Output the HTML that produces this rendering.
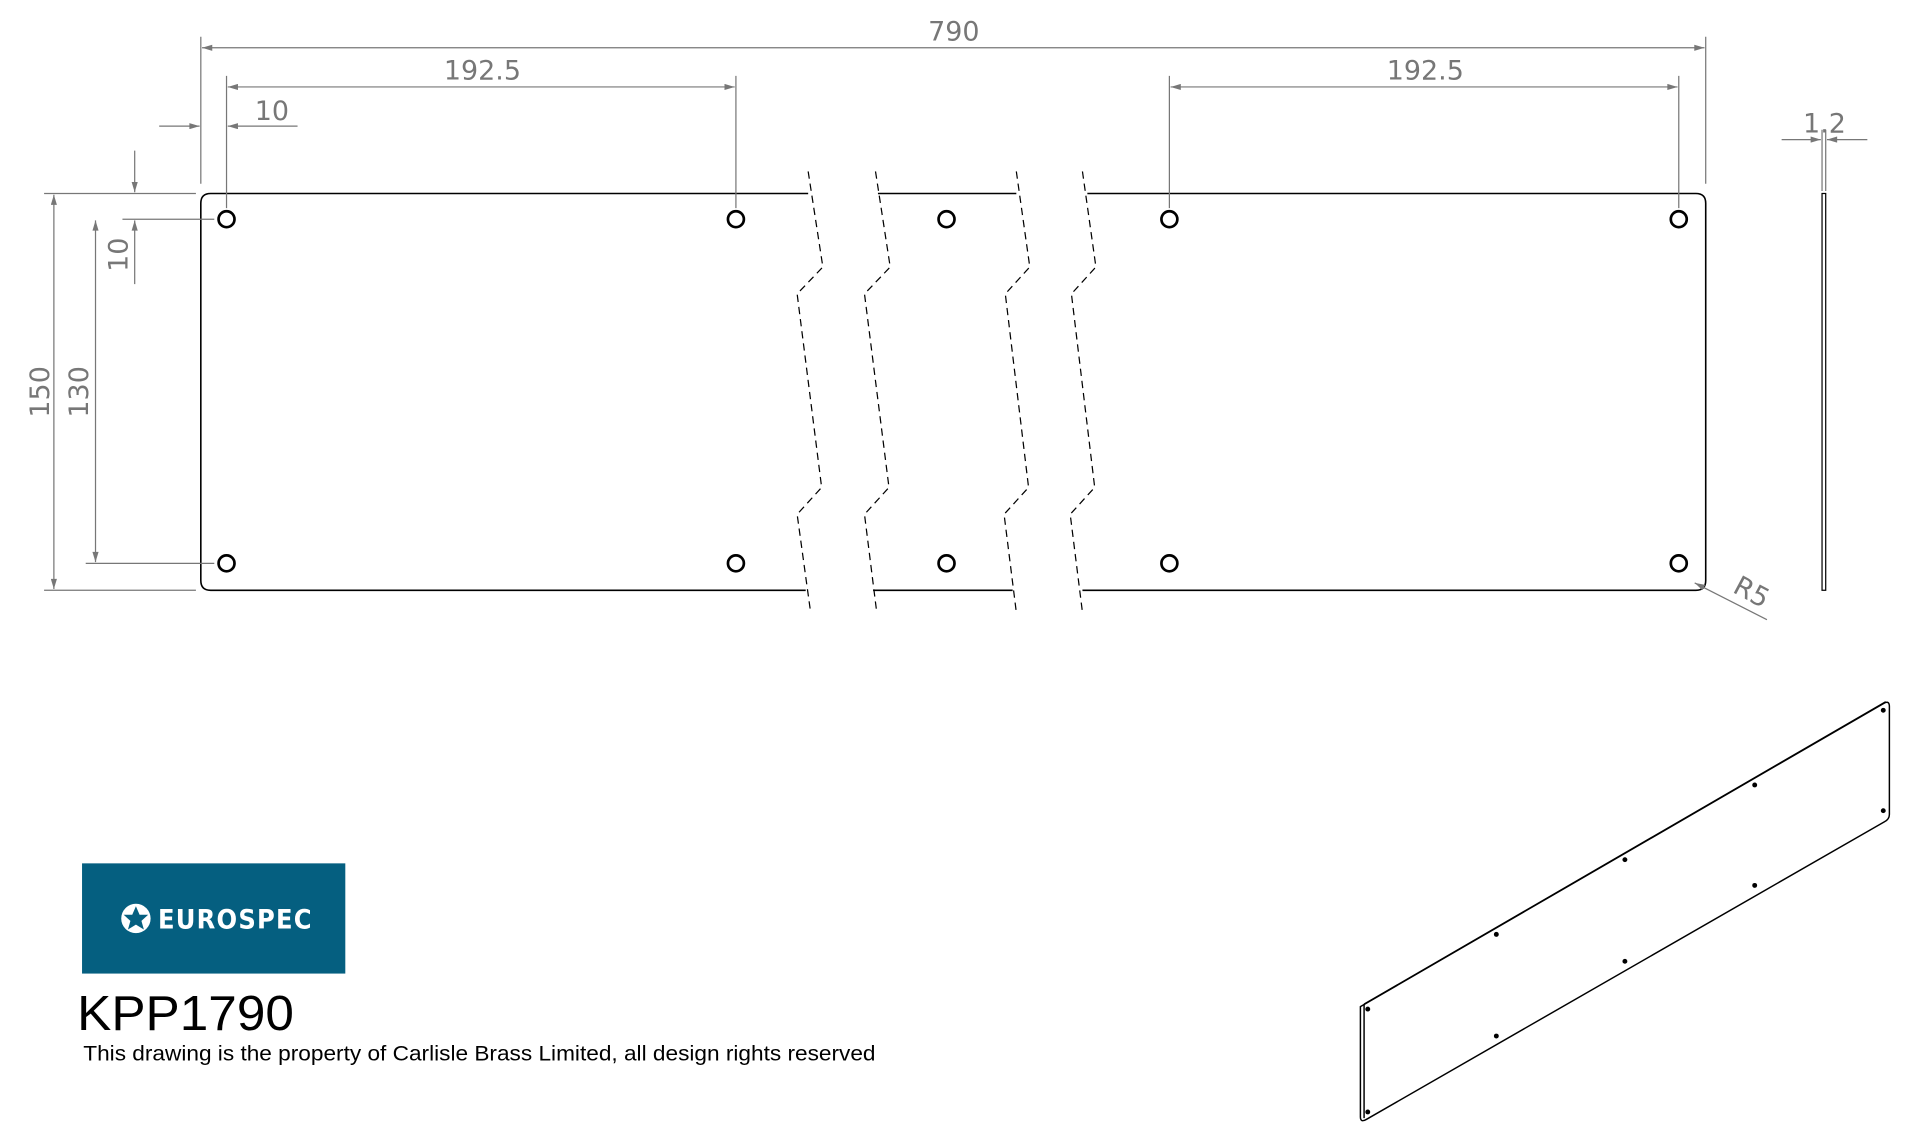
<!DOCTYPE html>
<html><head><meta charset="utf-8"><style>
html,body{margin:0;padding:0;background:#fff;}
svg{display:block}
</style></head><body>
<svg width="1920" height="1134" viewBox="0 0 1568 926" preserveAspectRatio="none" xmlns="http://www.w3.org/2000/svg" font-family="'DejaVu Sans','Liberation Sans',sans-serif">
<defs>
<marker id="a" viewBox="0 0 10 6" refX="10" refY="3" markerWidth="12" markerHeight="5" orient="auto-start-reverse" markerUnits="userSpaceOnUse"><path d="M0,0L10,3L0,6z" fill="#777"/></marker>
</defs>
<g fill="none" stroke="#000" stroke-width="1.3">
<path d="M660,158 H172 Q164,158 164,166 V474 Q164,482 172,482 H658"/>
<path d="M717,158 H830 M713,482 H827"/>
<path d="M888,158 H1385 Q1393,158 1393,166 V474 Q1393,482 1385,482 H884"/>
</g>
<g fill="none" stroke="#000" stroke-width="1" stroke-dasharray="6,4">
<path d="M660,140 L672,218 L651,240 L671,398 L651,420 L662,500"/>
<path d="M715,140 L727,218 L706,240 L726,398 L706,420 L716,500"/>
<path d="M830,140 L841,218 L821,240 L840,398 L820,420 L830,500"/>
<path d="M884,140 L895,218 L875,240 L894,398 L874,420 L884,500"/>
</g>
<g fill="none" stroke="#000" stroke-width="2.2">
<g id="h"><circle cx="185" cy="179" r="6.5"/></g>
<use href="#h" x="416"/><use href="#h" x="588"/><use href="#h" x="770"/><use href="#h" x="1186"/>
<use href="#h" y="281"/><use href="#h" x="416" y="281"/><use href="#h" x="588" y="281"/><use href="#h" x="770" y="281"/><use href="#h" x="1186" y="281"/>
</g>
<g stroke="#777" stroke-width="1" fill="none">
<path d="M164,150 V30 M1393,150 V30"/>
<path d="M165,39 H1392" marker-start="url(#a)" marker-end="url(#a)"/>
<path d="M185,170 V62 M601,170 V62 M955,170 V62 M1371,170 V62"/>
<path d="M186,71 H600" marker-start="url(#a)" marker-end="url(#a)"/>
<path d="M956,71 H1370" marker-start="url(#a)" marker-end="url(#a)"/>
<path d="M130,103 H163" marker-end="url(#a)"/><path d="M243,103 H186" marker-end="url(#a)"/>
<path d="M160,158 H36 M175,179 H100 M175,460 H70 M160,482 H36"/>
<path d="M44,159 V481" marker-start="url(#a)" marker-end="url(#a)"/>
<path d="M78,180 V459" marker-start="url(#a)" marker-end="url(#a)"/>
<path d="M110,123 V157" marker-end="url(#a)"/><path d="M110,232 V180" marker-end="url(#a)"/>
<path d="M1455,114 H1487" marker-end="url(#a)"/><path d="M1525,114 H1492" marker-end="url(#a)"/>
<path d="M1488,106 V156 M1491,106 V156"/>
<path d="M1443,506 L1384,476" marker-end="url(#a)"/>
</g>
<g fill="#777" font-size="22" text-anchor="middle">
<text x="779" y="33">790</text>
<text x="394" y="65">192.5</text>
<text x="1164" y="65">192.5</text>
<text x="222" y="98">10</text>
<text x="1490" y="108">1.2</text>
<text transform="translate(40,320) rotate(-90)">150</text>
<text transform="translate(72,320) rotate(-90)">130</text>
<text transform="translate(104,208) rotate(-90)">10</text>
<text transform="translate(1427,490) rotate(28)">R5</text>
</g>
<rect x="1488" y="158" width="3" height="324" fill="none" stroke="#000" stroke-width="1"/>
<g fill="none" stroke="#000" stroke-width="1.2">
<path d="M1111,822 L1539,574 Q1543,572 1543,577 L1543,665 Q1543,669 1539,671 L1116,914 Q1111,917 1111,912 Z"/>
<path d="M1114,820 L1540,573 M1114,820 L1114,913"/>
</g>
<g fill="#000">
<circle cx="1117" cy="824" r="2"/><circle cx="1222" cy="763" r="2"/><circle cx="1327" cy="702" r="2"/><circle cx="1433" cy="641" r="2"/><circle cx="1538" cy="580" r="2"/>
<circle cx="1117" cy="908" r="2"/><circle cx="1222" cy="846" r="2"/><circle cx="1327" cy="785" r="2"/><circle cx="1433" cy="723" r="2"/><circle cx="1538" cy="662" r="2"/>
</g>
<rect x="67" y="705" width="215" height="90" fill="#055f80"/>
<circle cx="111" cy="750" r="12" fill="#fff"/>
<path d="M111,740 L114,747 L121,747 L115.5,752 L117.5,759 L111,755 L104.5,759 L106.5,752 L101,747 L108,747 Z" fill="#055f80"/>
<text x="129" y="758" fill="#fff" font-size="22" font-weight="bold" font-family="'DejaVu Sans Condensed','Liberation Sans Narrow',sans-serif" letter-spacing="1">EUROSPEC</text>
<text x="63" y="841" font-size="40" fill="#000" font-family="'Liberation Sans',sans-serif" textLength="177" lengthAdjust="spacingAndGlyphs">KPP1790</text>
<text x="68" y="866" font-size="17" fill="#000" font-family="'Liberation Sans',sans-serif" textLength="647" lengthAdjust="spacingAndGlyphs">This drawing is the property of Carlisle Brass Limited, all design rights reserved</text>
</svg>
</body></html>
